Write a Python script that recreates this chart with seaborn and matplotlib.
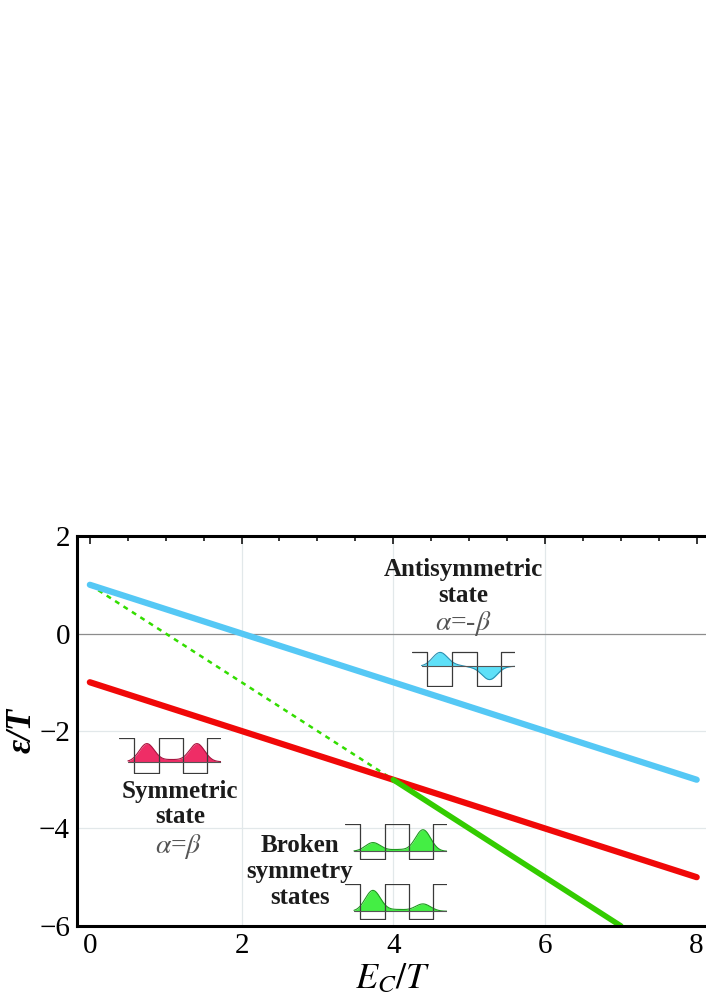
import numpy as np
import pandas as pd
import seaborn as sns
import matplotlib.pyplot as plt
from matplotlib.ticker import MultipleLocator

# energy levels vs E_C/T
ec = [0, 8]
antisym_energy = [1, -3]
sym_energy = [-1, -5]
broken_ec = [4, 7]
broken_energy = [-3, -6]
unstable_ec = [0, 4]
unstable_energy = [1, -3]

xticks = [0, 2, 4, 6, 8]
yticks = [-6, -4, -2, 0, 2]
grid_x = [2, 4, 6]
grid_y = [-4, -2]

# little double-well sketches: (peak centre, peak height) pairs, bridge in the barrier
sym_peaks = [(0.275, 0.52), (0.765, 0.52)]
anti_peaks = [(0.27, 0.40), (0.75, -0.38)]
broken_up_peaks = [(0.275, 0.25), (0.765, 0.62)]
broken_low_peaks = [(0.275, 0.60), (0.765, 0.21)]

sns.set_theme(style='white')
plt.rcParams['font.family'] = ['Liberation Serif', 'DejaVu Serif']
plt.rcParams['mathtext.fontset'] = 'stix'

fig = plt.figure(figsize=(7.06, 10.01), dpi=100)
ax = fig.add_axes([0.109, 0.075, 0.895, 0.3895])

for gx in grid_x:
    ax.axvline(gx, color='#e2e8ea', lw=0.9, zorder=0)
for gy in grid_y:
    ax.axhline(gy, color='#e2e8ea', lw=0.9, zorder=0)
ax.axhline(0, color='#8c8c8c', lw=0.9, zorder=1)

sns.lineplot(x=unstable_ec, y=unstable_energy, ax=ax, color='#33dd00', lw=1.8,
             linestyle=(0, (2, 2)))
sns.lineplot(x=ec, y=antisym_energy, ax=ax, color='#55c8f5', lw=4.5)
sns.lineplot(x=ec, y=sym_energy, ax=ax, color='#f00808', lw=4.5)
sns.lineplot(x=broken_ec, y=broken_energy, ax=ax, color='#33cc00', lw=4.0)

ax.set_xlim(-0.17, 8.16)
ax.set_ylim(-6, 2)
ax.set_xticks(xticks)
ax.set_yticks(yticks)
ax.xaxis.set_minor_locator(MultipleLocator(0.5))
ax.yaxis.set_minor_locator(MultipleLocator(0.5))
ax.tick_params(which='both', direction='in', top=True, right=False, color='black',
               width=1.1, labelsize=21, labelcolor='black')
ax.tick_params(which='major', length=6, pad=5)
ax.tick_params(which='minor', length=3.5)
for s in ax.spines.values():
    s.set_color('black')
    s.set_linewidth(2.2)
ax.spines['right'].set_visible(False)

ax.set_xlabel(r'$E_C/T$', fontsize=26, labelpad=3, color='black')
ax.set_ylabel('')
fig.text(0.032, 0.27, 'ε/T', rotation=90, ha='center', va='center', fontsize=25,
         fontstyle='italic', fontweight='bold', color='black')


def well(box, level, peaks, bridge, fill, edge, slope=0.0):
    iax = ax.inset_axes(box, transform=ax.transData)
    iax.set_axis_off()
    iax.patch.set_alpha(0)
    iax.set_xlim(0, 1)
    iax.set_ylim(-0.02, 1.02)
    x = np.linspace(0.09, 1.0, 400)
    psi = sum(h * np.exp(-((x - c) / 0.105) ** 2) for c, h in peaks)
    psi = psi + bridge * np.exp(-((x - 0.52) / 0.14) ** 2)
    psi = psi + slope * (x - 0.52) / 0.12 * np.exp(-((x - 0.52) / 0.12) ** 2)
    iax.fill_between(x, level, level + psi, color=fill, lw=0)
    iax.plot(x, level + psi, color=edge, lw=0.8)
    px = [0, 0.145, 0.145, 0.39, 0.39, 0.625, 0.625, 0.865, 0.865, 1.0]
    py = [1, 1, 0, 0, 1, 1, 0, 0, 1, 1]
    iax.plot(px, py, color='#3a3a3a', lw=0.9)
    iax.plot([0.09, 1.0], [level, level], color='#555555', lw=0.8)


well([0.38, -2.88, 1.35, 0.74], 0.33, sym_peaks, 0.06, '#ef2d66', '#a8143f')
well([4.25, -1.10, 1.36, 0.74], 0.58, anti_peaks, 0.0, '#5ee0f8', '#2a8fb0', slope=-0.05)
well([3.36, -4.64, 1.35, 0.74], 0.22, broken_up_peaks, 0.05, '#44ee44', '#1f9a1f')
well([3.36, -5.87, 1.35, 0.74], 0.22, broken_low_peaks, 0.05, '#44ee44', '#1f9a1f')

bold = dict(ha='center', va='center', fontsize=18, fontweight='bold', color='#1c1c1c')
ax.text(4.92, 1.31, 'Antisymmetric', **bold)
ax.text(4.92, 0.78, 'state', **bold)
ax.text(4.92, 0.2, r'$\alpha$=-$\beta$', ha='center', va='center', fontsize=20,
        color='#555555')

ax.text(1.19, -3.25, 'Symmetric', **bold)
ax.text(1.19, -3.76, 'state', **bold)
ax.text(1.17, -4.38, r'$\alpha$=$\beta$', ha='center', va='center', fontsize=20,
        color='#555555')

ax.text(2.77, -4.36, 'Broken', **bold)
ax.text(2.77, -4.89, 'symmetry', **bold)
ax.text(2.77, -5.42, 'states', **bold)

fig.savefig('out.png', dpi=100)
